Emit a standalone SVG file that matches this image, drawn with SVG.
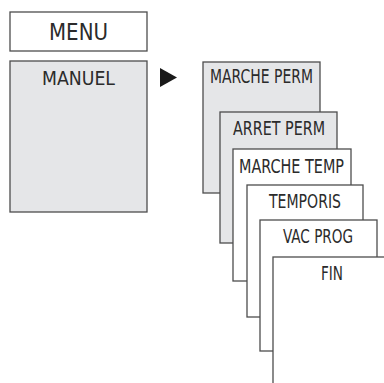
<svg xmlns="http://www.w3.org/2000/svg" width="384" height="383" viewBox="0 0 384 383">
<style>
.box{stroke:#4d4d4d;stroke-width:1.3}
.g{fill:#e5e6e8}
.w{fill:#ffffff}
text{font-family:"DejaVu Sans Condensed","DejaVu Sans",sans-serif;font-size:19px;fill:#2b2b2b;text-anchor:middle}
</style>
<rect width="384" height="383" fill="#ffffff"/>
<g id="menu"><rect class="box w" x="10" y="12" width="137" height="39"/><text x="78.5" y="40" style="font-size:23px" textLength="59" lengthAdjust="spacingAndGlyphs">MENU</text></g>
<g id="manuel"><rect class="box g" x="10" y="61" width="137" height="151"/><text x="78.5" y="85" textLength="73" lengthAdjust="spacingAndGlyphs">MANUEL</text></g>
<g id="connectors"><polygon points="160,68 160,87 177,77.5" fill="#1a1a1a"/></g>
<g id="marche-perm"><rect class="box g" x="203" y="62" width="117" height="131"/><text x="261.5" y="83" textLength="103" lengthAdjust="spacingAndGlyphs">MARCHE PERM</text></g>
<g id="arret-perm"><rect class="box g" x="220" y="112" width="117" height="131"/><text x="279" y="135" textLength="92" lengthAdjust="spacingAndGlyphs">ARRET PERM</text></g>
<g id="marche-temp"><rect class="box w" x="233" y="149" width="118" height="132"/><text x="291.5" y="173" textLength="105" lengthAdjust="spacingAndGlyphs">MARCHE TEMP</text></g>
<g id="temporis"><rect class="box w" x="247" y="185" width="116" height="132"/><text x="305" y="208" textLength="72" lengthAdjust="spacingAndGlyphs">TEMPORIS</text></g>
<g id="vac-prog"><rect class="box w" x="260" y="220" width="117" height="131"/><text x="318" y="243" textLength="70" lengthAdjust="spacingAndGlyphs">VAC PROG</text></g>
<g id="fin"><rect class="box w" x="273" y="257" width="118" height="140"/><text x="332" y="280" textLength="22" lengthAdjust="spacingAndGlyphs">FIN</text></g>
</svg>
